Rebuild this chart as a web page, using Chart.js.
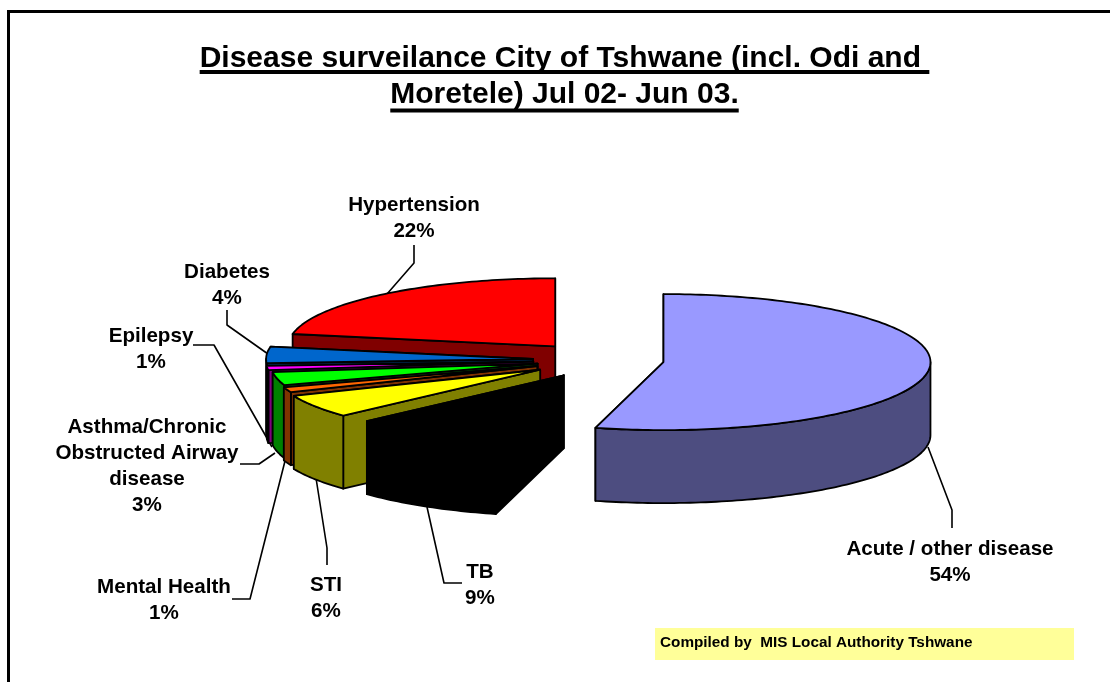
<!DOCTYPE html>
<html>
<head>
<meta charset="utf-8">
<title>Disease surveilance City of Tshwane</title>
<script src="https://cdn.jsdelivr.net/npm/chart.js@4"></script>
<style>
  html, body { margin: 0; padding: 0; background: #fff; overflow: hidden; }
  #wrap { position: relative; width: 1110px; height: 682px; }
  #frame { position: absolute; left: 7px; top: 10px; width: 1200px; height: 800px; border: 3px solid #000; box-sizing: border-box; }
  canvas { position: absolute; left: 0; top: 0; }
</style>
</head>
<body>
<div id="wrap">
  <div id="frame"></div>
  <canvas id="chart" width="1110" height="682"></canvas>
</div>
<script>
const titleLines = ['Disease surveilance City of Tshwane (incl. Odi and ', 'Moretele) Jul 02- Jun 03.'];
const categories = ['Acute / other disease', 'TB', 'STI', 'Mental Health', 'Asthma/Chronic Obstructed Airway disease', 'Epilepsy', 'Diabetes', 'Hypertension'];
const shares = [54.1, 9.1, 5.5, 1.2, 3.1, 1.0, 3.9, 22.1];
const topColors = ['#9999FF', '#000000', '#FFFF00', '#FF6600', '#00FF00', '#FF00FF', '#0066CC', '#FF0000'];
const sideColors = ['#4D4D80', '#000000', '#808000', '#803300', '#008000', '#800080', '#003366', '#800000'];
const explodeBy = [64, 70, 71, 67, 64, 67, 67, 70];
const compiledBy = 'Compiled by  MIS Local Authority Tshwane';

// wrapped name lines and where each label sits, same order as categories
const labelLines = [['Acute / other disease'], ['TB'], ['STI'], ['Mental Health'], ['Asthma/Chronic', 'Obstructed Airway', 'disease'], ['Epilepsy'], ['Diabetes'], ['Hypertension']];
const labelAt = [[950, 549.5], [480, 572.5], [326, 585.5], [164, 587.5], [147, 427.5], [151, 336.5], [227, 272.5], [414, 205.5]];
const leaders = [
  [[952, 528], [952, 510], [928, 447]],
  [[462, 583], [444, 583], [427, 507]],
  [[327, 565], [327, 548], [316, 478]],
  [[232, 599], [250, 599], [285, 461]],
  [[240, 464], [259, 464], [275, 453]],
  [[193, 345], [214, 345], [272, 447]],
  [[227, 310], [227, 325], [268, 354]],
  [[414, 245], [414, 263], [387, 294]]
];
const underlineY = [70, 108.5];

const pieCenter = { x: 600, y: 360 };
const pieRadius = 267;
const squash = 68 / 267;
const depth = 73;
const FONT = '"Liberation Sans", Arial, sans-serif';

function outline(ctx, pts, fill) {
  ctx.beginPath();
  pts.forEach((p, i) => (i ? ctx.lineTo(p[0], p[1]) : ctx.moveTo(p[0], p[1])));
  ctx.closePath();
  if (fill) {
    ctx.fillStyle = fill;
    ctx.fill();
  }
  ctx.stroke();
}

const pie3d = {
  id: 'pie3d',
  beforeDatasetDraw(chart) {
    const ctx = chart.ctx;
    const arcs = chart.getDatasetMeta(0).data;
    ctx.save();
    ctx.lineJoin = 'round';

    // leader lines go under the pie
    ctx.strokeStyle = '#000';
    ctx.lineWidth = 1.6;
    leaders.forEach(line => {
      ctx.beginPath();
      line.forEach((p, i) => (i ? ctx.lineTo(p[0], p[1]) : ctx.moveTo(p[0], p[1])));
      ctx.stroke();
    });

    // back to front: last slice first, the big one does not touch the others
    for (let i = arcs.length - 1; i >= 0; i--) {
      const el = arcs[i];
      const mid = (el.startAngle + el.endAngle) / 2;
      const ox = pieCenter.x + Math.cos(mid) * explodeBy[i];
      const oy = pieCenter.y + Math.sin(mid) * explodeBy[i] * squash;
      const rim = a => [ox + Math.cos(a) * el.outerRadius, oy + Math.sin(a) * el.outerRadius * squash];
      const drop = p => [p[0], p[1] + depth];
      const apex = [ox, oy];

      ctx.lineWidth = 1.8;
      ctx.strokeStyle = '#000';

      // the two cut faces, the hidden one first
      outline(ctx, [apex, rim(el.endAngle), drop(rim(el.endAngle)), drop(apex)], sideColors[i]);
      outline(ctx, [apex, rim(el.startAngle), drop(rim(el.startAngle)), drop(apex)], sideColors[i]);

      // outer wall, only the part that faces the viewer
      const from = Math.max(el.startAngle, 0);
      const to = Math.min(el.endAngle, Math.PI);
      if (to > from) {
        const upper = [];
        const steps = Math.ceil((to - from) / 0.02);
        for (let s = 0; s <= steps; s++) upper.push(rim(from + (to - from) * s / steps));
        outline(ctx, upper.concat(upper.map(drop).reverse()), sideColors[i]);
      }

      // top face is the library's own arc, squashed
      ctx.save();
      ctx.translate(ox, oy);
      ctx.scale(1, squash);
      ctx.translate(-el.x, -el.y);
      el.draw(ctx);
      ctx.restore();

      const edge = [apex];
      const n = Math.ceil((el.endAngle - el.startAngle) / 0.02);
      for (let s = 0; s <= n; s++) edge.push(rim(el.startAngle + (el.endAngle - el.startAngle) * s / n));
      outline(ctx, edge);
    }
    ctx.restore();
    return false;
  },
  afterDraw(chart) {
    const ctx = chart.ctx;
    const total = shares.reduce((a, b) => a + b, 0);
    ctx.save();

    // data labels
    ctx.fillStyle = '#000';
    ctx.font = 'bold 20.6px ' + FONT;
    ctx.textAlign = 'center';
    ctx.textBaseline = 'middle';
    labelLines.forEach((lines, i) => {
      const all = lines.concat(Math.round(shares[i] / total * 100) + '%');
      all.forEach((t, j) => ctx.fillText(t, labelAt[i][0], labelAt[i][1] + j * 26));
    });

    // title underline, canvas text has none
    const tb = chart.titleBlock;
    const tf = chart.options.plugins.title.font;
    ctx.font = 'bold ' + tf.size + 'px ' + FONT;
    titleLines.forEach((t, i) => {
      const w = ctx.measureText(t).width;
      const cx = (tb.left + tb.right) / 2;
      ctx.fillRect(cx - w / 2, underlineY[i], w, 4);
    });

    // compiled-by box
    ctx.fillStyle = '#FFFF99';
    ctx.fillRect(655, 628, 419, 32);
    ctx.fillStyle = '#000';
    ctx.font = 'bold 15.3px ' + FONT;
    ctx.textAlign = 'left';
    ctx.fillText(compiledBy, 660, 643);
    ctx.restore();
  }
};

new Chart(document.getElementById('chart'), {
  type: 'pie',
  data: {
    labels: categories,
    datasets: [{
      data: shares,
      backgroundColor: topColors,
      borderWidth: 0
    }]
  },
  options: {
    responsive: false,
    animation: false,
    radius: pieRadius,
    layout: { padding: { left: 19 } },
    plugins: {
      legend: { display: false },
      tooltip: { enabled: false },
      title: {
        display: true,
        text: titleLines,
        color: '#000',
        font: { family: FONT, size: 30, weight: 'bold', lineHeight: 1.22 },
        padding: { top: 40, bottom: 0 }
      }
    }
  },
  plugins: [pie3d]
});
</script>
</body>
</html>
